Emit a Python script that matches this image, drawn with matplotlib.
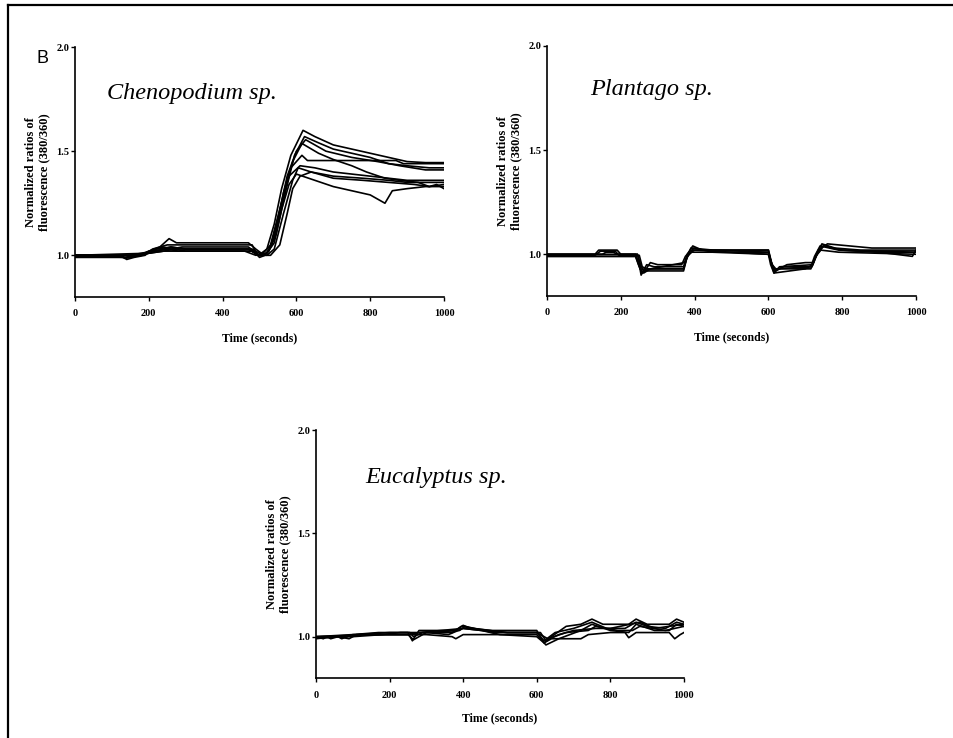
import matplotlib
matplotlib.use("Agg")
import matplotlib.pyplot as plt
from matplotlib.lines import Line2D

# ---- data (time in seconds, normalized ratio 380/360) ----
cheno_t = [
    [0, 120, 135, 150, 175, 200, 230, 255, 275, 470, 490, 505, 520, 540, 560, 585, 618, 650, 700, 750, 800, 850, 900, 950, 1000],
    [0, 130, 140, 160, 190, 210, 250, 270, 300, 480, 495, 510, 525, 545, 570, 595, 622, 660, 700, 750, 800, 850, 900, 960, 1000],
    [0, 135, 150, 180, 200, 240, 260, 290, 470, 485, 500, 515, 530, 550, 575, 600, 625, 680, 750, 820, 880, 950, 1000],
    [0, 140, 160, 190, 220, 260, 300, 470, 495, 510, 525, 545, 565, 590, 615, 660, 700, 750, 790, 840, 880, 930, 960, 980, 1000],
    [0, 150, 180, 210, 250, 280, 480, 500, 520, 540, 560, 585, 615, 630, 870, 890, 1000],
    [0, 160, 200, 240, 270, 300, 460, 490, 510, 530, 555, 580, 610, 650, 700, 750, 800, 850, 900, 1000],
    [0, 170, 210, 250, 280, 480, 500, 520, 540, 565, 590, 605, 640, 700, 780, 850, 900, 950, 1000],
    [0, 180, 220, 260, 300, 470, 500, 520, 540, 560, 580, 600, 650, 700, 750, 800, 840, 860, 900, 950, 1000],
    [0, 200, 240, 280, 480, 500, 530, 555, 575, 590, 610, 640, 700, 780, 850, 920, 960, 1000],
]
cheno_y = [
    [1.0, 1.0, 0.985, 0.99, 1.0, 1.02, 1.04, 1.08, 1.06, 1.06, 1.03, 1.01, 1.03, 1.15, 1.32, 1.48, 1.60, 1.57, 1.53, 1.51, 1.49, 1.47, 1.45, 1.445, 1.445],
    [0.995, 0.995, 0.98, 0.99, 1.0, 1.03, 1.05, 1.05, 1.05, 1.05, 1.0, 1.0, 1.02, 1.10, 1.30, 1.48, 1.57, 1.54, 1.51, 1.49, 1.47, 1.44, 1.43, 1.42, 1.42],
    [1.0, 0.99, 0.995, 1.0, 1.02, 1.04, 1.03, 1.04, 1.04, 1.02, 0.99, 1.0, 1.04, 1.18, 1.38, 1.50, 1.555, 1.50, 1.47, 1.45, 1.43, 1.41, 1.41],
    [0.99, 0.99, 1.0, 1.01, 1.03, 1.04, 1.03, 1.03, 1.0, 1.0, 1.02, 1.12, 1.30, 1.45, 1.537, 1.49, 1.46, 1.43, 1.40, 1.37, 1.36, 1.35, 1.33, 1.34, 1.32],
    [1.0, 1.0, 1.01, 1.02, 1.03, 1.02, 1.02, 1.0, 1.01, 1.08, 1.25, 1.42, 1.48, 1.455, 1.455, 1.44, 1.44],
    [1.0, 1.0, 1.01, 1.02, 1.03, 1.02, 1.02, 1.0, 1.01, 1.05, 1.22, 1.38, 1.43, 1.42, 1.40, 1.39, 1.38, 1.37, 1.36, 1.36],
    [1.0, 1.0, 1.02, 1.03, 1.03, 1.03, 1.01, 1.0, 1.03, 1.20, 1.36, 1.42, 1.40, 1.38, 1.37, 1.36, 1.35, 1.35, 1.35],
    [1.0, 1.0, 1.02, 1.04, 1.03, 1.03, 1.0, 1.01, 1.06, 1.22, 1.34, 1.39, 1.36, 1.33, 1.31, 1.29, 1.25, 1.31, 1.32, 1.33, 1.33],
    [1.0, 1.01, 1.02, 1.02, 1.02, 1.0, 1.0, 1.05, 1.20, 1.32, 1.38, 1.40, 1.37, 1.36, 1.35, 1.34, 1.33, 1.34],
]

plant_t = [
    [0, 130, 140, 190, 200, 240, 250, 255, 270, 290, 370, 380, 395, 420, 600, 605, 615, 630, 720, 730, 745, 780, 850, 1000],
    [0, 240, 248, 258, 275, 370, 378, 390, 450, 600, 608, 618, 640, 715, 725, 740, 790, 900, 1000],
    [0, 150, 160, 180, 190, 245, 255, 265, 280, 300, 365, 375, 390, 600, 610, 620, 650, 700, 720, 735, 750, 800, 900, 990, 1000],
    [0, 245, 255, 265, 370, 380, 392, 600, 612, 625, 715, 728, 742, 790, 1000],
    [0, 240, 252, 262, 280, 372, 385, 398, 450, 600, 606, 615, 700, 720, 735, 760, 880, 1000],
    [0, 130, 145, 185, 195, 250, 258, 270, 370, 382, 400, 600, 610, 620, 718, 732, 748, 800, 1000],
]
plant_y = [
    [1.0, 1.0, 1.02, 1.02, 1.0, 1.0, 0.95, 0.90, 0.95, 0.94, 0.94, 1.0, 1.04, 1.02, 1.02, 0.98, 0.91, 0.94, 0.95, 1.0, 1.05, 1.03, 1.02, 1.02],
    [0.99, 0.99, 0.95, 0.91, 0.93, 0.93, 0.98, 1.03, 1.02, 1.01, 0.96, 0.92, 0.94, 0.94, 0.99, 1.04, 1.02, 1.01, 1.01],
    [1.0, 1.0, 1.01, 1.01, 1.0, 1.0, 0.93, 0.92, 0.96, 0.95, 0.95, 0.99, 1.02, 1.02, 0.95, 0.92, 0.95, 0.96, 0.96, 1.01, 1.04, 1.02, 1.01, 0.99, 1.02],
    [1.0, 1.0, 0.94, 0.92, 0.92, 0.99, 1.01, 1.01, 0.93, 0.93, 0.93, 0.99, 1.02, 1.01, 1.0],
    [0.99, 0.99, 0.93, 0.91, 0.93, 0.96, 1.0, 1.03, 1.01, 1.0, 0.95, 0.91, 0.93, 0.95, 1.02, 1.05, 1.03, 1.03],
    [0.995, 0.995, 1.015, 1.015, 0.995, 0.995, 0.94, 0.93, 0.93, 1.0, 1.02, 1.0, 0.95, 0.93, 0.94, 1.0, 1.04, 1.02, 1.01],
]

euc_t = [
    [0, 20, 30, 40, 60, 70, 100, 170, 200, 250, 262, 280, 380, 400, 420, 480, 600, 620, 640, 680, 720, 750, 780, 850, 870, 900, 960, 980, 1000],
    [0, 30, 60, 90, 110, 200, 255, 265, 290, 370, 395, 430, 470, 520, 600, 620, 650, 700, 750, 790, 840, 870, 900, 950, 980, 1000],
    [0, 50, 100, 180, 230, 300, 360, 400, 450, 500, 560, 600, 625, 660, 720, 750, 800, 850, 870, 920, 960, 980, 1000],
    [0, 80, 120, 250, 300, 370, 380, 400, 500, 600, 620, 640, 720, 740, 800, 840, 850, 870, 960, 975, 990, 1000],
    [0, 100, 170, 250, 280, 400, 450, 520, 600, 630, 680, 740, 760, 820, 860, 880, 950, 1000],
    [0, 150, 250, 265, 300, 390, 405, 480, 610, 625, 660, 700, 760, 800, 880, 920, 1000],
]
euc_y = [
    [1.0, 0.99, 1.0, 0.99, 1.0, 0.99, 1.01, 1.02, 1.02, 1.02, 0.98, 1.03, 1.03, 1.055, 1.04, 1.03, 1.03, 0.97, 1.0, 1.05, 1.06, 1.085, 1.06, 1.06, 1.085, 1.06, 1.06, 1.085, 1.07],
    [1.0, 0.995, 1.0, 0.99, 1.01, 1.02, 1.02, 1.0, 1.02, 1.02, 1.05, 1.04, 1.03, 1.02, 1.02, 0.98, 1.02, 1.04, 1.07, 1.04, 1.04, 1.07, 1.05, 1.04, 1.07, 1.06],
    [0.99, 1.0, 1.0, 1.01, 1.02, 1.02, 1.01, 1.04, 1.03, 1.01, 1.01, 1.01, 0.96, 0.99, 1.03, 1.06, 1.03, 1.02, 1.06, 1.03, 1.03, 1.06, 1.05],
    [1.0, 1.0, 1.01, 1.01, 1.01, 1.0, 0.99, 1.01, 1.01, 1.0, 0.97, 0.99, 0.99, 1.01, 1.02, 1.02, 0.995, 1.02, 1.02, 0.99, 1.01, 1.02],
    [1.0, 1.01, 1.01, 1.01, 1.02, 1.04, 1.03, 1.02, 1.02, 0.99, 1.02, 1.03, 1.05, 1.03, 1.03, 1.05, 1.03, 1.05],
    [1.0, 1.01, 1.01, 0.985, 1.02, 1.03, 1.05, 1.02, 1.02, 0.98, 1.01, 1.03, 1.04, 1.04, 1.07, 1.04, 1.06],
]

x_ticks = [0, 200, 400, 600, 800, 1000]
y_ticks = [1.0, 1.5, 2.0]
y_label = "Normalized ratios of\nfluorescence (380/360)"
x_label = "Time (seconds)"

serif = "Liberation Serif"


def draw_panel(ax, times, values, name, name_x, name_y):
    for t, v in zip(times, values):
        ax.plot(t, v, color="black", lw=1.2)
    ax.set_xlim(0, 1000)
    ax.set_ylim(0.8, 2.0)
    ax.set_xticks(x_ticks)
    ax.set_yticks(y_ticks)
    ax.set_yticklabels(["%.1f" % v for v in y_ticks])
    for s in ["top", "right"]:
        ax.spines[s].set_visible(False)
    for s in ["left", "bottom"]:
        ax.spines[s].set_linewidth(1.2)
    ax.tick_params(axis="x", direction="out", length=3, width=1.0, pad=6)
    ax.tick_params(axis="y", direction="out", length=3, width=1.0, pad=1)
    for lab in ax.get_xticklabels() + ax.get_yticklabels():
        lab.set_fontfamily(serif)
        lab.set_fontweight("bold")
        lab.set_fontsize(7.5)
    ax.set_xlabel(x_label, fontfamily=serif, fontweight="bold", fontsize=8.5)
    ax.xaxis.set_label_coords(0.5, -0.14)
    ax.set_ylabel(y_label, fontfamily=serif, fontweight="bold", fontsize=9,
                  linespacing=1.1)
    ax.yaxis.set_label_coords(-0.068, 0.5)
    ax.text(name_x, name_y, name, fontfamily=serif, style="italic",
            fontsize=17.5, va="baseline")


fig = plt.figure(figsize=(9.54, 7.38), dpi=100)

ax1 = fig.add_axes([0.0786, 0.5976, 0.3868, 0.3387])
ax2 = fig.add_axes([0.5734, 0.5990, 0.3868, 0.3387])
ax3 = fig.add_axes([0.3312, 0.0813, 0.3857, 0.3360])

draw_panel(ax1, cheno_t, cheno_y, "Chenopodium sp.", 88, 1.75)
draw_panel(ax2, plant_t, plant_y, "Plantago sp.", 116, 1.765)
draw_panel(ax3, euc_t, euc_y, "Eucalyptus sp.", 134, 1.745)

fig.text(0.045, 0.921, "B", fontfamily="Liberation Sans", fontsize=13,
         ha="center", va="center")

# frame around the panel (left and top edges visible)
fig.add_artist(Line2D([0.0084, 0.0084], [0.0, 0.9939], color="black", lw=1.6,
                      transform=fig.transFigure))
fig.add_artist(Line2D([0.0084, 1.0], [0.9939, 0.9939], color="black", lw=1.6,
                      transform=fig.transFigure))

fig.savefig("out.png", dpi=100)
